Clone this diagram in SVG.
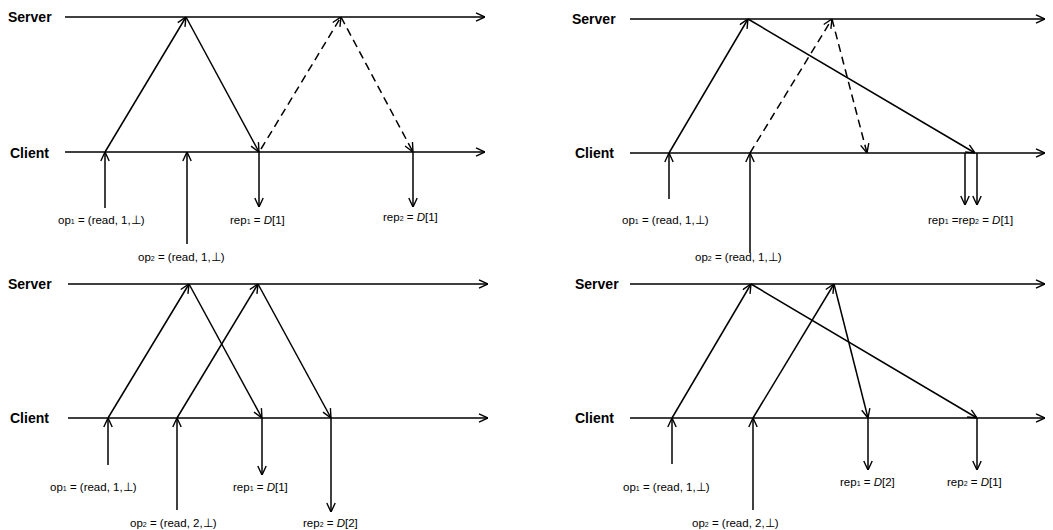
<svg xmlns="http://www.w3.org/2000/svg" width="1053" height="530" viewBox="0 0 1053 530">
<style>
.ln{stroke:#000;stroke-width:1.5;fill:none}
.da{stroke-dasharray:8,5}
.lbl{font-family:"Liberation Sans",Arial,sans-serif;font-size:14px;font-weight:bold;fill:#000}
.t{font-family:"Liberation Sans",Arial,sans-serif;font-size:11.5px;fill:#000}
.s{font-size:7px}
.i{font-style:italic}
</style>
<defs>
<marker id="ah" viewBox="0 0 10 10" refX="10" refY="5" markerWidth="10" markerHeight="10" markerUnits="userSpaceOnUse" orient="auto">
<path d="M1,0.8 L10,5 L1,9.2" fill="none" stroke="#000" stroke-width="1.4"/>
</marker>
</defs>
<rect width="1053" height="530" fill="#fff"/>

<g id="panel1">
<g id="p1-server"><text class="lbl" x="8" y="22">Server</text></g>
<g id="p1-client"><text class="lbl" x="10" y="158">Client</text></g>
<g id="p1-connectors">
<line class="ln" x1="65" y1="17" x2="485" y2="17" marker-end="url(#ah)"/>
<line class="ln" x1="65" y1="152" x2="485" y2="152" marker-end="url(#ah)"/>
<line class="ln" x1="105" y1="208" x2="105" y2="152" marker-end="url(#ah)"/>
<line class="ln" x1="187" y1="244" x2="187" y2="152" marker-end="url(#ah)"/>
<line class="ln" x1="105" y1="152" x2="186" y2="17" marker-end="url(#ah)"/>
<line class="ln" x1="186" y1="17" x2="259" y2="152" marker-end="url(#ah)"/>
<line class="ln" x1="259" y1="152" x2="259" y2="207" marker-end="url(#ah)"/>
<line class="ln da" x1="261" y1="149" x2="341" y2="17" marker-end="url(#ah)"/>
<line class="ln da" x1="341" y1="17" x2="413" y2="152" marker-end="url(#ah)"/>
<line class="ln" x1="413" y1="152" x2="413" y2="207" marker-end="url(#ah)"/>
</g>
<text class="t" x="58" y="224">op<tspan class="s">1</tspan> = (read, 1,⊥)</text>
<text class="t" x="138" y="261">op<tspan class="s">2</tspan> = (read, 1,⊥)</text>
<text class="t" x="230" y="224">rep<tspan class="s">1</tspan> = <tspan class="i">D</tspan>[1]</text>
<text class="t" x="383" y="221">rep<tspan class="s">2</tspan> = <tspan class="i">D</tspan>[1]</text>
</g>

<g id="panel2">
<g id="p2-server"><text class="lbl" x="572" y="24">Server</text></g>
<g id="p2-client"><text class="lbl" x="575" y="158">Client</text></g>
<g id="p2-connectors">
<line class="ln" x1="630" y1="19" x2="1045" y2="19" marker-end="url(#ah)"/>
<line class="ln" x1="630" y1="153" x2="1045" y2="153" marker-end="url(#ah)"/>
<line class="ln" x1="669" y1="199" x2="669" y2="153" marker-end="url(#ah)"/>
<line class="ln" x1="750" y1="253" x2="750" y2="153" marker-end="url(#ah)"/>
<line class="ln" x1="669" y1="153" x2="748" y2="19" marker-end="url(#ah)"/>
<line class="ln" x1="748" y1="19" x2="975" y2="153" marker-end="url(#ah)"/>
<line class="ln da" x1="750" y1="153" x2="832" y2="19" marker-end="url(#ah)"/>
<line class="ln da" x1="832" y1="19" x2="867" y2="153" marker-end="url(#ah)"/>
<line class="ln" x1="965" y1="153" x2="965" y2="205" marker-end="url(#ah)"/>
<line class="ln" x1="977" y1="153" x2="977" y2="205" marker-end="url(#ah)"/>
</g>
<text class="t" x="622" y="224">op<tspan class="s">1</tspan> = (read, 1,⊥)</text>
<text class="t" x="695" y="261">op<tspan class="s">2</tspan> = (read, 1,⊥)</text>
<text class="t" x="928" y="224">rep<tspan class="s">1</tspan> =rep<tspan class="s">2</tspan> = <tspan class="i">D</tspan>[1]</text>
</g>

<g id="panel3">
<g id="p3-server"><text class="lbl" x="8" y="289">Server</text></g>
<g id="p3-client"><text class="lbl" x="10" y="423">Client</text></g>
<g id="p3-connectors">
<line class="ln" x1="68" y1="284" x2="488" y2="284" marker-end="url(#ah)"/>
<line class="ln" x1="68" y1="418" x2="488" y2="418" marker-end="url(#ah)"/>
<line class="ln" x1="108" y1="465" x2="108" y2="418" marker-end="url(#ah)"/>
<line class="ln" x1="177" y1="510" x2="177" y2="418" marker-end="url(#ah)"/>
<line class="ln" x1="108" y1="418" x2="189" y2="284" marker-end="url(#ah)"/>
<line class="ln" x1="189" y1="284" x2="262" y2="418" marker-end="url(#ah)"/>
<line class="ln" x1="177" y1="418" x2="258" y2="284" marker-end="url(#ah)"/>
<line class="ln" x1="258" y1="284" x2="331" y2="418" marker-end="url(#ah)"/>
<line class="ln" x1="262" y1="418" x2="262" y2="475" marker-end="url(#ah)"/>
<line class="ln" x1="331" y1="418" x2="331" y2="512" marker-end="url(#ah)"/>
</g>
<text class="t" x="50" y="491">op<tspan class="s">1</tspan> = (read, 1,⊥)</text>
<text class="t" x="130" y="527">op<tspan class="s">2</tspan> = (read, 2,⊥)</text>
<text class="t" x="233" y="491">rep<tspan class="s">1</tspan> = <tspan class="i">D</tspan>[1]</text>
<text class="t" x="303" y="527">rep<tspan class="s">2</tspan> = <tspan class="i">D</tspan>[2]</text>
</g>

<g id="panel4">
<g id="p4-server"><text class="lbl" x="575" y="289">Server</text></g>
<g id="p4-client"><text class="lbl" x="575" y="423">Client</text></g>
<g id="p4-connectors">
<line class="ln" x1="630" y1="284" x2="1045" y2="284" marker-end="url(#ah)"/>
<line class="ln" x1="630" y1="418" x2="1045" y2="418" marker-end="url(#ah)"/>
<line class="ln" x1="672" y1="464" x2="672" y2="418" marker-end="url(#ah)"/>
<line class="ln" x1="753" y1="510" x2="753" y2="418" marker-end="url(#ah)"/>
<line class="ln" x1="672" y1="418" x2="751" y2="284" marker-end="url(#ah)"/>
<line class="ln" x1="751" y1="284" x2="977" y2="418" marker-end="url(#ah)"/>
<line class="ln" x1="753" y1="418" x2="834" y2="284" marker-end="url(#ah)"/>
<line class="ln" x1="834" y1="284" x2="868" y2="418" marker-end="url(#ah)"/>
<line class="ln" x1="868" y1="418" x2="868" y2="470" marker-end="url(#ah)"/>
<line class="ln" x1="977" y1="418" x2="977" y2="470" marker-end="url(#ah)"/>
</g>
<text class="t" x="623" y="491">op<tspan class="s">1</tspan> = (read, 1,⊥)</text>
<text class="t" x="692" y="527">op<tspan class="s">2</tspan> = (read, 2,⊥)</text>
<text class="t" x="840" y="486">rep<tspan class="s">1</tspan> = <tspan class="i">D</tspan>[2]</text>
<text class="t" x="947" y="486">rep<tspan class="s">2</tspan> = <tspan class="i">D</tspan>[1]</text>
</g>
</svg>
